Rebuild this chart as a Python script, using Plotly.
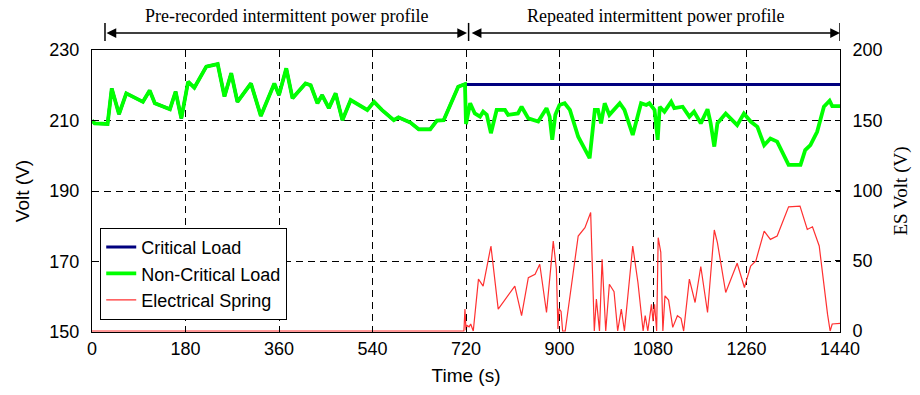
import plotly.graph_objects as go

# ---- data ----
nc_time = [0, 5, 30, 38, 52, 66, 98, 111, 121, 150, 161, 172, 185, 197, 220, 242, 255, 268, 280,
           306, 325, 351, 360, 374, 386, 411, 421, 434, 443, 456, 469, 482, 498, 514, 530, 543,
           558, 581, 590, 613, 629, 651, 664, 677, 696, 705, 718, 720, 728, 737, 747, 753, 760,
           768, 779, 795, 801, 820, 827, 840, 859, 875, 881, 886, 892, 900, 910, 920, 936, 958,
           968, 974, 980, 987, 996, 1009, 1016, 1025, 1041, 1057, 1067, 1073, 1083, 1089, 1093,
           1102, 1115, 1121, 1137, 1150, 1159, 1172, 1185, 1191, 1198, 1204, 1220, 1242, 1255,
           1268, 1281, 1294, 1306, 1319, 1341, 1364, 1373, 1383, 1396, 1409, 1420, 1425, 1440]
nc_volt = [210.0, 209.2, 209.0, 219.1, 211.8, 217.7, 215.3, 218.5, 214.9, 213.2, 218.2, 210.6,
           221.0, 219.3, 225.3, 226.0, 216.8, 223.4, 215.3, 220.5, 211.3, 220.5, 217.2, 224.8,
           216.3, 220.5, 220.0, 214.9, 217.2, 213.5, 217.7, 210.1, 215.8, 214.4, 213.0, 215.3,
           213.0, 210.1, 210.9, 209.4, 207.5, 207.5, 210.0, 210.1, 216.8, 219.6, 220.3, 209.0,
           214.9, 212.0, 211.1, 212.5, 211.6, 206.4, 213.0, 213.0, 211.6, 212.0, 213.9, 210.6,
           209.7, 213.5, 211.1, 204.5, 211.6, 214.4, 214.9, 213.0, 205.4, 199.3, 213.0, 213.0,
           209.2, 214.9, 211.6, 213.9, 214.9, 213.0, 205.9, 214.9, 214.4, 214.9, 213.0, 204.5,
           213.9, 212.5, 215.3, 213.5, 213.9, 211.1, 212.5, 209.2, 213.2, 209.2, 202.6, 209.2,
           212.0, 208.7, 212.0, 209.7, 208.2, 203.0, 204.9, 204.0, 197.4, 197.4, 201.6, 203.0,
           206.8, 213.9, 215.6, 214.1, 214.1]

# critical load follows the same pre-recorded profile up to 720 s, then is held constant
n_pre = nc_time.index(718) + 1
crit_time = nc_time[:n_pre] + [720, 1440]
crit_volt = nc_volt[:n_pre] + [220.2, 220.2]

es_time = [0, 716, 718, 720, 722, 726, 729, 734, 744, 753, 768, 782, 814, 827, 840, 853, 862,
           875, 888, 894, 897, 899, 903, 906, 911, 936, 949, 960, 967, 971, 977, 982, 989, 996,
           1005, 1012, 1019, 1025, 1041, 1051, 1061, 1065, 1070, 1077, 1080, 1083, 1087, 1090,
           1095, 1099, 1103, 1110, 1118, 1127, 1134, 1139, 1150, 1161, 1172, 1185, 1198, 1204,
           1220, 1242, 1256, 1268, 1278, 1294, 1306, 1319, 1341, 1363, 1377, 1387, 1400, 1406,
           1416, 1421, 1425, 1440]
es_volt = [0, 0, 15.6, 0.5, 4, 3, 5, 0, 36.9, 32, 60.5, 15.6, 32, 10.9, 38, 40.4, 47.5,
           13.2, 64, 44, 1.4, 16, 14, 0, 0, 67.6, 73.5, 84.4, 0, 22.7, 0, 51, 0, 33.3,
           28, 0, 15.6, 0, 60.5, 34.5, 0, 10.9, 0, 19, 7, 19, 0, 66.4,
           56, 0, 25, 22, 2.6, 10.9, 9, 0, 36.9, 20.3, 45.9, 13.2, 71.9, 62.9,
           27.4, 48.2, 31, 46.3, 49.9, 71.1, 65.2, 67.6, 88.4, 88.9, 72.3, 74.2, 60.5, 41.6,
           12, 0, 5, 5.5]

x_ticks = [0, 180, 360, 540, 720, 900, 1080, 1260, 1440]
y_ticks = [150, 170, 190, 210, 230]
y2_ticks = [0, 50, 100, 150, 200]

sans = "Liberation Sans, Arial, sans-serif"
serif = "Liberation Serif, Times New Roman, serif"

fig = go.Figure()
fig.add_trace(go.Scatter(x=crit_time, y=crit_volt, mode="lines", name="Critical Load",
                         line=dict(color="#00007f", width=3)))
fig.add_trace(go.Scatter(x=nc_time, y=nc_volt, mode="lines", name="Non-Critical Load",
                         line=dict(color="#00ff00", width=3.8)))
fig.add_trace(go.Scatter(x=es_time, y=es_volt, mode="lines", name="Electrical Spring",
                         yaxis="y2", line=dict(color="#ff3030", width=1.2)))

axis_common = dict(ticks="inside", ticklen=5, tickcolor="black", showline=True,
                   linecolor="black", linewidth=1, zeroline=False,
                   tickfont=dict(family=sans, size=18, color="black"))

fig.update_layout(
    width=920, height=395,
    margin=dict(l=92, r=77, t=50, b=63),
    paper_bgcolor="white", plot_bgcolor="white",
    showlegend=True,
    xaxis=dict(range=[0, 1440], tickvals=x_ticks, mirror="ticks",
               showgrid=True, gridcolor="black", gridwidth=1, griddash="7px,5px",
               title=dict(text="Time (s)", font=dict(family=sans, size=19, color="black"),
                          standoff=11),
               **axis_common),
    yaxis=dict(range=[150, 230], tickvals=y_ticks, mirror=True,
               showgrid=True, gridcolor="black", gridwidth=1, griddash="7px,5px",
               ticklabelstandoff=8,
               title=dict(text="Volt (V)", font=dict(family=sans, size=19, color="black"),
                          standoff=14),
               **axis_common),
    yaxis2=dict(range=[-0.7, 200], tickvals=y2_ticks, overlaying="y", side="right",
                showgrid=False, ticklabelstandoff=8,
                title=dict(text="ES Volt (V)", font=dict(family=serif, size=19, color="black"),
                           standoff=12),
                **axis_common),
    legend=dict(x=0.011, y=0.043, xanchor="left", yanchor="bottom",
                bgcolor="white", bordercolor="black", borderwidth=1,
                font=dict(family=sans, size=18, color="black"),
                tracegroupgap=0, entrywidth=215, entrywidthmode="pixels"),
)

# phase annotations with double-headed arrows
arrow_y = 1.06
phases = [(25, 722, "Pre-recorded intermittent power profile"),
          (728, 1440, "Repeated intermittent power profile")]
for x0, x1, label in phases:
    fig.add_annotation(x=x1, y=arrow_y, xref="x", yref="paper", ax=x0, ay=0,
                       axref="x", ayref="pixel", showarrow=True, arrowhead=2,
                       arrowside="end+start", arrowsize=1.3, arrowwidth=1.5,
                       arrowcolor="black", standoff=0, startstandoff=0, text="")
    fig.add_annotation(x=(x0 + x1) / 2, y=1.12, xref="x", yref="paper", showarrow=False,
                       text=label, font=dict(family=serif, size=18, color="black"),
                       yanchor="middle")
for xb in [25, 725, 1440]:
    fig.add_shape(type="line", x0=xb, x1=xb, y0=1.032, y1=1.096, xref="x", yref="paper",
                  line=dict(color="black", width=1.5))

fig.write_html("out.html")
